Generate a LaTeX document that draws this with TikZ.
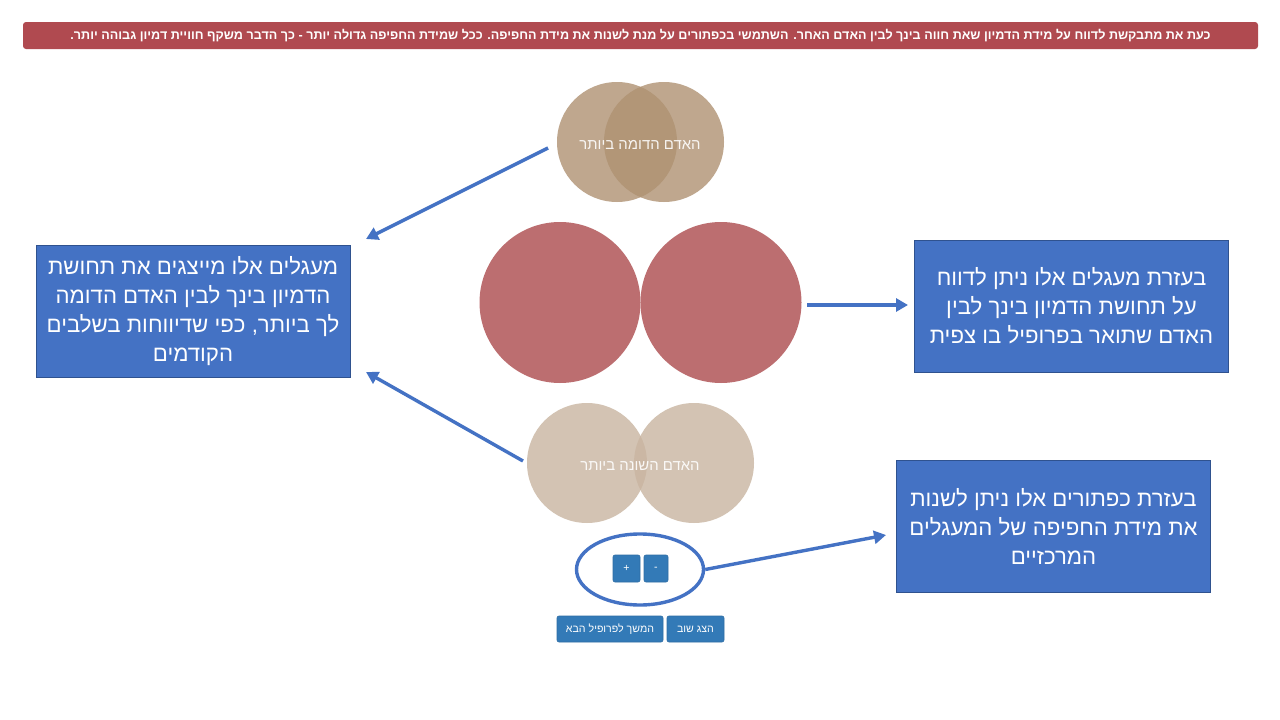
\documentclass[tikz,border=0pt]{standalone}
\usepackage{fontspec}
\setmainfont{Liberation Sans}
\newfontfamily\heb[Script=Hebrew]{Liberation Sans}
\TeXXeTstate=1
\usetikzlibrary{arrows.meta,shapes.geometric}
\definecolor{bannerred}{RGB}{176,74,80}
\definecolor{boxblue}{RGB}{68,114,196}
\definecolor{boxedge}{RGB}{47,82,143}
\definecolor{btnblue}{RGB}{51,122,183}
\definecolor{btnedge}{RGB}{46,109,164}
\definecolor{tanA}{RGB}{175,146,114}
\definecolor{tanB}{RGB}{201,181,161}
\definecolor{rosec}{RGB}{188,110,112}
\newcommand{\RL}[1]{\beginR #1\endR}
\tikzset{
  infobox/.style={draw=boxedge, line width=0.8pt, fill=boxblue, text=white,
    minimum width=314pt, minimum height=132pt, inner sep=0pt, align=center,
    font=\heb\fontsize{22.2}{29}\selectfont},
  circA/.style={circle, fill=tanA, fill opacity=0.8, minimum size=120pt, inner sep=0pt},
  circB/.style={circle, fill=tanB, fill opacity=0.8, minimum size=120pt, inner sep=0pt},
  circR/.style={circle, fill=rosec, minimum size=161pt, inner sep=0pt},
  circlabel/.style={text=white, text opacity=0.9, font=\heb\fontsize{14.9}{17}\selectfont},
  btn/.style={draw=btnedge, line width=0.6pt, fill=btnblue, rounded corners=2pt, text=white,
    inner sep=0pt, font=\heb\fontsize{10.6}{12}\selectfont},
  pointer/.style={draw=boxblue, line width=3.4pt, -{Triangle[length=12pt,width=13pt]}}
}
\begin{document}
\begin{tikzpicture}[x=1pt,y=-1pt]
\useasboundingbox (0,0) rectangle (1280,720);
\fill[white] (0,0) rectangle (1280,720);
% banner
\node[fill=bannerred, rounded corners=3pt, minimum width=1235pt, minimum height=27pt, inner sep=0pt,
  text=white, font=\heb\bfseries\fontsize{12.6}{14}\selectfont] (banner) at (640.5,35.5)
  {\RL{כעת את מתבקשת לדווח על מידת הדמיון שאת חווה בינך לבין האדם האחר. השתמשי בכפתורים על מנת לשנות את מידת החפיפה. ככל שמידת החפיפה גדולה יותר - כך הדבר משקף חוויית דמיון גבוהה יותר.}};
% top circles
\node[circA] (t1) at (617,142) {};
\node[circA] (t2) at (664,142) {};
\node[circlabel] (tl) at (640,145) {\RL{האדם הדומה ביותר}};
% middle circles
\node[circR] (m1) at (560,302.5) {};
\node[circR] (m2) at (721,302.5) {};
% bottom circles
\node[circB] (b1) at (587,463) {};
\node[circB] (b2) at (694,463) {};
\node[circlabel] (bl) at (640,466) {\RL{האדם השונה ביותר}};
% buttons
\node[btn, minimum width=27pt, minimum height=27pt] (plus) at (626.5,568.5) {+};
\node[btn, minimum width=24pt, minimum height=27pt] (minus) at (656,568.5) {-};
\node[draw=boxblue, line width=3.4pt, ellipse, minimum width=127pt, minimum height=71pt] (ell) at (640,569.5) {};
\node[btn, minimum width=106pt, minimum height=26pt] (next) at (610,629) {\RL{המשך לפרופיל הבא}};
\node[btn, minimum width=57pt, minimum height=26pt] (again) at (695.5,629) {\RL{הצג שוב}};
% boxes
\node[infobox] (lbox) at (193,311) {\RL{מעגלים אלו מייצגים את תחושת}\\\RL{הדמיון בינך לבין האדם הדומה}\\\RL{לך ביותר, כפי שדיווחות בשלבים}\\\RL{הקודמים}};
\node[infobox] (rbox) at (1071.5,306) {\RL{בעזרת מעגלים אלו ניתן לדווח}\\\RL{על תחושת הדמיון בינך לבין}\\\RL{האדם שתואר בפרופיל בו צפית}};
\node[infobox] (bbox) at (1053.5,526) {\RL{בעזרת כפתורים אלו ניתן לשנות}\\\RL{את מידת החפיפה  של המעגלים}\\\RL{המרכזיים}};
% arrows
\coordinate (a1s) at (548,148);
\coordinate (a1e) at (366,239);
\coordinate (a2s) at (523,461);
\coordinate (a2e) at (366,372);
\coordinate (a3s) at (807,305);
\coordinate (a3e) at (908,305);
\coordinate (a4e) at (886,535);
\draw[pointer] (a1s) -- (a1e);
\draw[pointer] (a2s) -- (a2e);
\draw[pointer] (a3s) -- (a3e);
\draw[pointer] (ell.east) -- (a4e);
\end{tikzpicture}
\end{document}
